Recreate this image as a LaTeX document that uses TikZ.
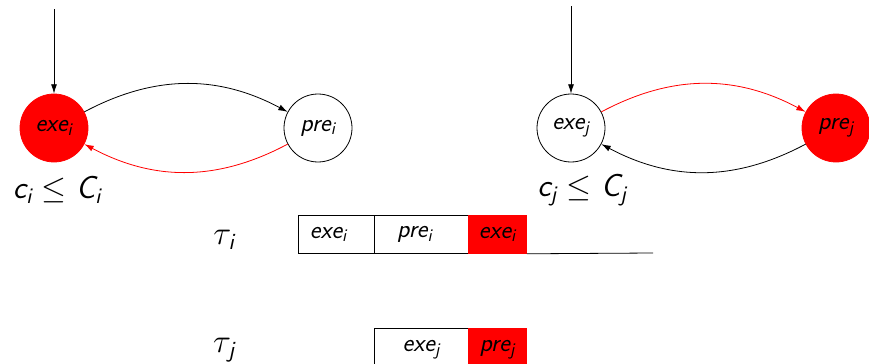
\RequirePackage{fix-cm}
\documentclass[tikz,border=0pt]{standalone}
\usepackage{fontspec}
\usetikzlibrary{arrows.meta}
\newcommand{\sv}[2]{{\sffamily\itshape #1\textsubscript{#2}}}
\begin{document}
\begin{tikzpicture}[x=0.75pt,y=-0.75pt,
  every node/.style={font=\fontsize{19}{22}\selectfont},
  st/.style={circle,draw,line width=0.6pt,minimum size=51pt,inner sep=0pt},
  stred/.style={st,fill=red,draw=red},
  arr/.style={line width=0.6pt,-{Latex[length=7pt,width=4.5pt]}},
  rarr/.style={arr,red},
  cell/.style={anchor=north west,draw,line width=0.6pt,minimum height=28.5pt,inner sep=0pt},
  rcell/.style={cell,fill=red,draw=red},
  taulab/.style={font=\fontsize{25}{28}\selectfont}]
\useasboundingbox (0,0) rectangle (869,364);
% left automaton
\node[stred] (ei) at (54,128) {\sv{exe}{i}};
\node[st] (pi) at (318,128) {\sv{pre}{i}};
\coordinate (si) at (54,9);
\draw[arr] (si) -- (ei);
\draw[arr] (ei) to[bend left=28] (pi);
\draw[rarr] (pi) to[bend left=28] (ei);
\node (ci) at (57,190) {\fontsize{24}{28}\selectfont\sv{c}{i} $\leq$ \sv{C}{i}};
% right automaton
\node[st] (ej) at (571,128) {\sv{exe}{j}};
\node[stred] (pj) at (836,128) {\sv{pre}{j}};
\coordinate (sj) at (571,6);
\draw[arr] (sj) -- (ej);
\draw[rarr] (ej) to[bend left=28] (pj);
\draw[arr] (pj) to[bend left=28] (ej);
\node (cj) at (582,190) {\fontsize{24}{28}\selectfont\sv{c}{j} $\leq$ \sv{C}{j}};
% timelines
\node[taulab] (ti) at (224,240) {$\tau$\kern-2pt\textsubscript{\sffamily\itshape i}};
\node[taulab] (tj) at (224,350) {$\tau$\kern-2pt\textsubscript{\sffamily\itshape j}};
\node[cell,minimum width=57pt] (b1) at (298,215) {\sv{exe}{i}\rule{12pt}{0pt}};
\node[cell,minimum width=70.5pt] (b2) at (374,215) {\sv{pre}{i}\rule{10pt}{0pt}};
\node[rcell,minimum width=43.5pt] (b3) at (468,215) {\sv{exe}{i}};
\coordinate (endi) at (653,253);
\draw[line width=0.6pt] (b3.south east) -- (endi);
\node[cell,minimum width=70.5pt,minimum height=32.5pt] (c1) at (374,328) {\sv{exe}{j}};
\node[rcell,minimum width=43.5pt,minimum height=32.5pt] (c2) at (468,328) {\sv{pre}{j}};
\end{tikzpicture}
\end{document}
